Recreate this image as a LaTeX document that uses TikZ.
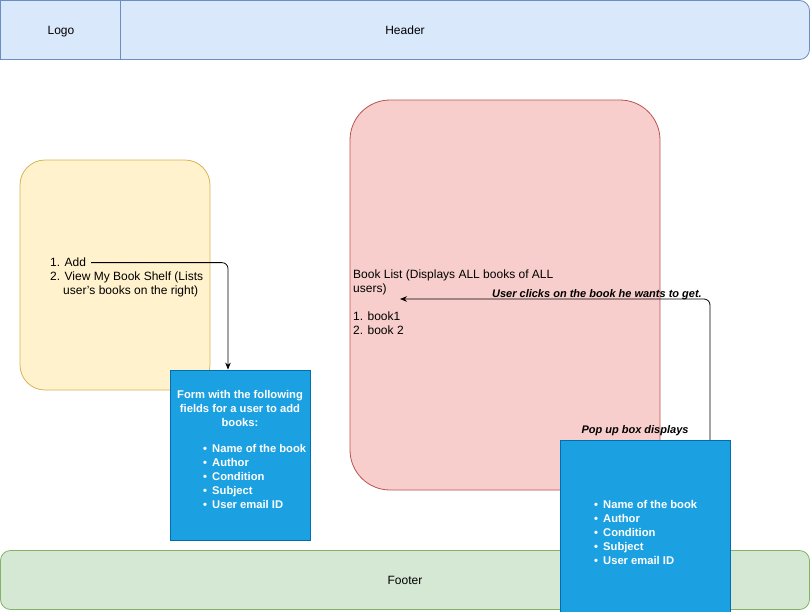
\documentclass[tikz,border=0pt]{standalone}
\usepackage{fontspec}
\setmainfont{Liberation Sans}
\usetikzlibrary{positioning, arrows.meta}

\definecolor{hdrfill}{HTML}{DAE8FC}
\definecolor{hdrline}{HTML}{6C8EBF}
\definecolor{menufill}{HTML}{FFF2CC}
\definecolor{menuline}{HTML}{D6B656}
\definecolor{listfill}{HTML}{F8CECC}
\definecolor{listline}{HTML}{B85450}
\definecolor{footfill}{HTML}{D5E8D4}
\definecolor{footline}{HTML}{82B366}
\definecolor{formfill}{HTML}{1BA1E2}
\definecolor{formline}{HTML}{006EAF}

\newcommand{\itm}[1]{\makebox[9pt][l]{\textbullet}#1}

\tikzset{
  panel/.style={draw, line width=0.8pt, inner sep=0pt},
  bluebox/.style={panel, fill=formfill, draw=formline},
  txt/.style={inner sep=0pt, align=left, anchor=north west},
  wtxt/.style={txt, text=white, font=\fontsize{11.2}{14}\selectfont\bfseries},
  note/.style={inner sep=0pt, font=\fontsize{11}{14}\selectfont\bfseries\itshape},
  flow/.style={->, line width=0.8pt, rounded corners=6pt},
}

\begin{document}
\begin{tikzpicture}[x=1pt, y=-1pt, >={Stealth[length=7pt, width=5.5pt]}, font=\fontsize{12}{14}\selectfont]
  \useasboundingbox (0,0) rectangle (811,611);
  % header bar
  \node[panel, fill=hdrfill, draw=hdrline, rounded corners=10pt,
    minimum width=809pt, minimum height=59pt] (header) at (405,30) {};
  \node[panel, fill=hdrfill, draw=hdrline, minimum width=120pt,
    minimum height=59pt] (logo) at (60.5,30) {};
  \node[anchor=base] at (405,34.5) {Header};
  \node[anchor=base] at (61,34.5) {Logo};

  % side menu
  \node[panel, fill=menufill, draw=menuline, rounded corners=25pt,
    minimum width=190pt, minimum height=230pt] (menu) at (115,275) {};
  \node[txt] (add) at (50,258) {1. Add};
  \node[txt] (view) at (50,272) {2. View My Book Shelf (Lists\\\hspace*{13pt}user's books on the right)};

  % book list
  \node[panel, fill=listfill, draw=listline, rounded corners=40pt,
    minimum width=310pt, minimum height=390pt] (booklist) at (505,295) {};
  \node[txt] (listhead) at (353,270) {Book List (Displays ALL books of ALL\\users)\\[14pt]1. book1\\2. book 2};
  \coordinate (pick) at (400,299);

  % footer
  \node[panel, fill=footfill, draw=footline, rounded corners=10pt,
    minimum width=809pt, minimum height=59pt] (footer) at (405,580) {};
  \node[anchor=base] at (405,584.5) {Footer};

  % add-book form
  \node[bluebox, minimum width=140pt, minimum height=170pt] (form) at (240,455) {};
  \node[wtxt, align=center, anchor=north] (formhead) at (240,390)
    {Form with the following\\fields for a user to add\\books:};
  \node[wtxt] (formlist) at (203,444)
    {\itm{Name of the book}\\\itm{Author}\\\itm{Condition}\\\itm{Subject}\\\itm{User email ID}};

  % pop up
  \node[bluebox, minimum width=170pt, minimum height=180pt, anchor=north] (popup) at (645,440) {};
  \node[wtxt] (popuplist) at (594,500)
    {\itm{Name of the book}\\\itm{Author}\\\itm{Condition}\\\itm{Subject}\\\itm{User email ID}};
  \node[note, anchor=base] (popnote) at (635,433) {Pop up box displays};

  % flows
  \draw[flow] ([xshift=5pt]add.east) -| ([xshift=-12pt]form.north);
  \draw[flow] ([xshift=65pt]popup.north) |- (pick);
  \node[note, anchor=base east] (picknote) at (702,297) {User clicks on the book he wants to get.};
\end{tikzpicture}
\end{document}
